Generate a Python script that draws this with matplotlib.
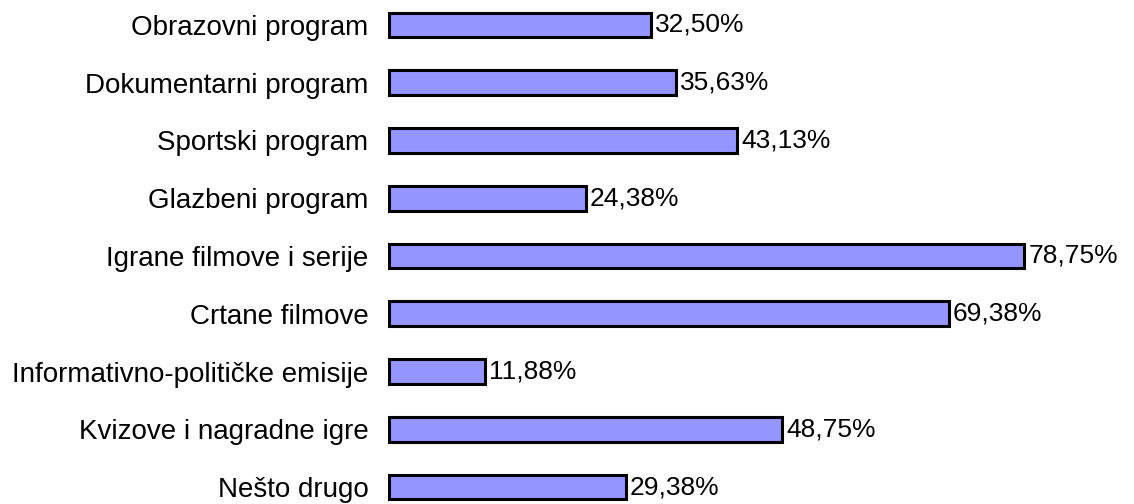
import matplotlib
matplotlib.use('Agg')
from matplotlib import pyplot as plt

categories = ['Obrazovni program', 'Dokumentarni program', 'Sportski program',
              'Glazbeni program', 'Igrane filmove i serije', 'Crtane filmove',
              'Informativno-političke emisije', 'Kvizove i nagradne igre', 'Nešto drugo']
values = [32.50, 35.63, 43.13, 24.38, 78.75, 69.38, 11.88, 48.75, 29.38]
value_labels = ['32,50%', '35,63%', '43,13%', '24,38%', '78,75%', '69,38%',
                '11,88%', '48,75%', '29,38%']

plt.rcParams['font.family'] = ['Liberation Sans', 'DejaVu Sans']

W, H = 1134, 504
fig = plt.figure(figsize=(W / 100, H / 100), dpi=100)
left = 388 / W
ax = fig.add_axes([left, 0, 1 - left, 1])

pos = list(range(len(categories)))
ax.barh(pos, values, height=0.43, color='#9595FF', edgecolor='black', linewidth=2.2)

for p, v, lab in zip(pos, values, value_labels):
    ax.text(v + 0.5, p, lab, va='center', ha='left', fontsize=19)

ax.set_yticks(pos)
ax.set_yticklabels(categories, fontsize=20)
ax.tick_params(axis='y', length=0, pad=14)
ax.set_xticks([])
ax.set_xlim(-0.1, (W - 388) / 8.08)
ax.set_ylim((H - 25) / 57.75, -25 / 57.75)
for s in ax.spines.values():
    s.set_visible(False)

fig.savefig('out.png', dpi=100)
